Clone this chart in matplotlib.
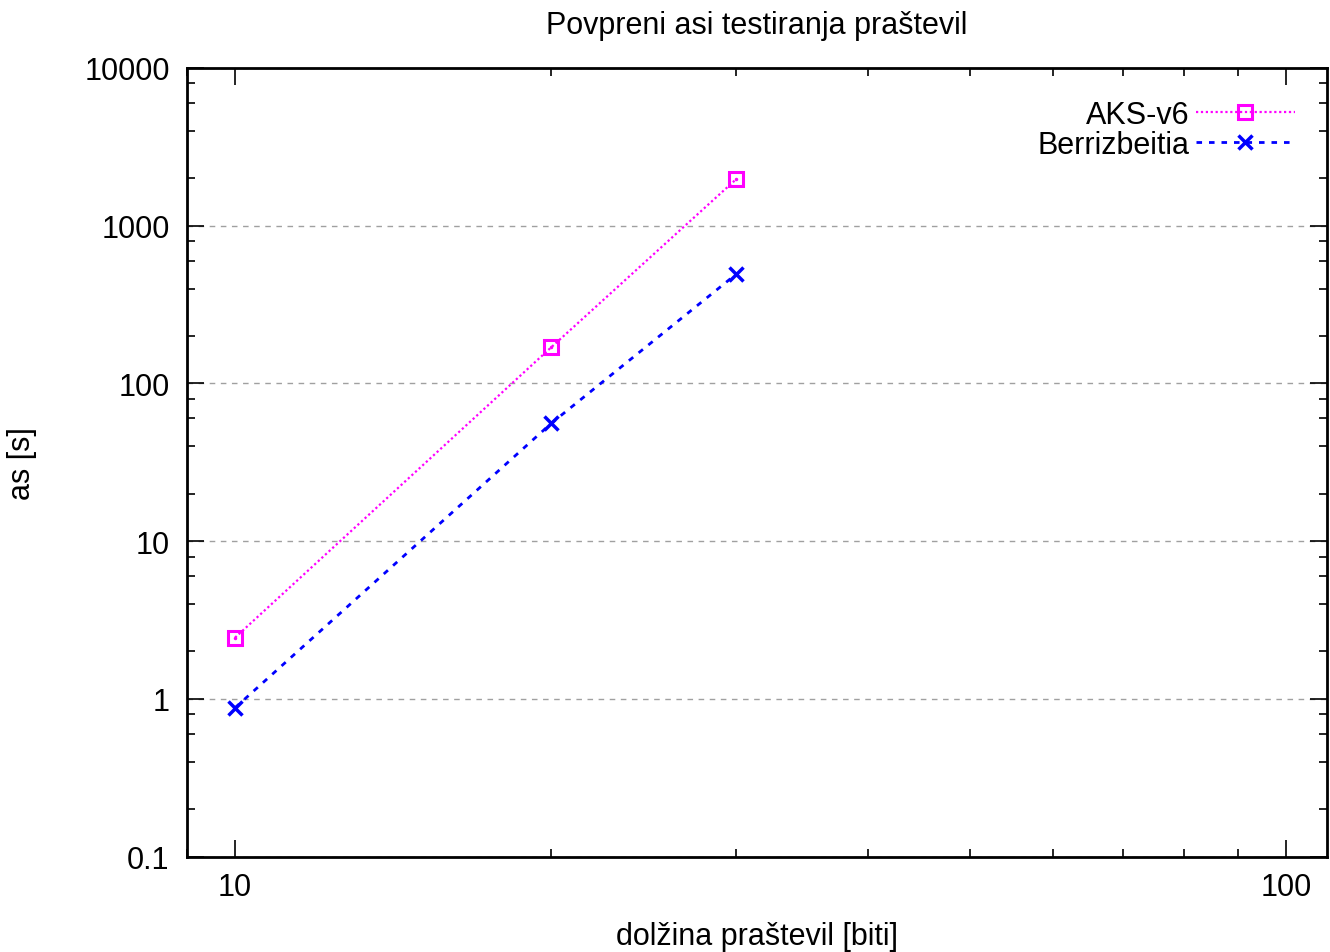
import matplotlib
matplotlib.use("Agg")
import matplotlib.pyplot as plt
from matplotlib.ticker import LogLocator, FixedLocator, NullFormatter, FixedFormatter

plt.rcParams['font.family'] = ['Liberation Sans', 'DejaVu Sans']

bits = [10, 20, 30]
aks_v6 = [2.45, 170, 1980]
berrizbeitia = [0.88, 56, 495]

title = "Povpreni asi testiranja praštevil"
xlabel = "dolžina praštevil [biti]"
ylabel = "as [s]"
series_names = ["AKS-v6", "Berrizbeitia"]
y_ticks = [0.1, 1, 10, 100, 1000, 10000]
y_tick_labels = ["0.1", "1", "10", "100", "1000", "10000"]
x_ticks = [10, 100]
x_tick_labels = ["10", "100"]

fig = plt.figure(figsize=(13.3, 9.53), dpi=100)
ax = fig.add_axes([0.1406, 0.1, 0.998 - 0.1406, 0.9276 - 0.1])

fs = 22
ax.set_xscale('log')
ax.set_yscale('log')
ax.set_xlim(9, 109.5)
ax.set_ylim(0.1, 10000)

l1, = ax.plot(bits, aks_v6, color='#ff00ff', linestyle=(0, (1, 1.2)), linewidth=1.6,
        marker='s', markersize=10, markerfacecolor='none', markeredgecolor='#ff00ff',
        markeredgewidth=2.2, label=series_names[0])
ax.plot(bits, aks_v6, linestyle='none', marker='.', markersize=3, color='#ff00ff')
l2, = ax.plot(bits, berrizbeitia, color='#0000ff', linestyle=(0, (2, 2.5)), linewidth=2.0,
        marker='x', markersize=10, markeredgewidth=2.5, label=series_names[1])

ax.yaxis.set_major_locator(FixedLocator(y_ticks))
ax.yaxis.set_major_formatter(FixedFormatter(y_tick_labels))
ax.yaxis.set_minor_locator(LogLocator(base=10, subs=(2, 4, 6, 8)))
ax.yaxis.set_minor_formatter(NullFormatter())
ax.xaxis.set_major_locator(FixedLocator(x_ticks))
ax.xaxis.set_major_formatter(FixedFormatter(x_tick_labels))
ax.xaxis.set_minor_locator(LogLocator(base=10, subs=(2, 3, 4, 5, 6, 7, 8, 9)))
ax.xaxis.set_minor_formatter(NullFormatter())

ax.tick_params(which='both', direction='in', top=True, right=True, width=1.2, labelsize=fs)
ax.tick_params(which='major', length=12)
ax.tick_params(which='minor', length=6)
ax.tick_params(axis='y', which='major', pad=12.5)
ax.tick_params(axis='x', which='major', pad=11)

for s in ax.spines.values():
    s.set_linewidth(2)

ax.grid(True, axis='y', which='major', color='#a0a0a0', linestyle=(0, (4, 4)), linewidth=1)
ax.set_axisbelow(True)

ax.set_title(title, fontsize=fs, pad=25)
ax.set_xlabel(xlabel, fontsize=fs, va='center')
ax.xaxis.set_label_coords(0.5, -0.1005)
ax.set_ylabel(ylabel, fontsize=fs, va='center', ha='center')
ax.yaxis.set_label_coords(-0.1446, 0.5)

leg = ax.legend([l1, l2], series_names, loc='upper right', frameon=False, fontsize=fs,
                markerfirst=False, handlelength=3.25, handletextpad=0.2, labelspacing=0.0,
                bbox_to_anchor=(0.9715, 0.9594), borderaxespad=0, borderpad=0)

fig.savefig("out.png", dpi=100)
